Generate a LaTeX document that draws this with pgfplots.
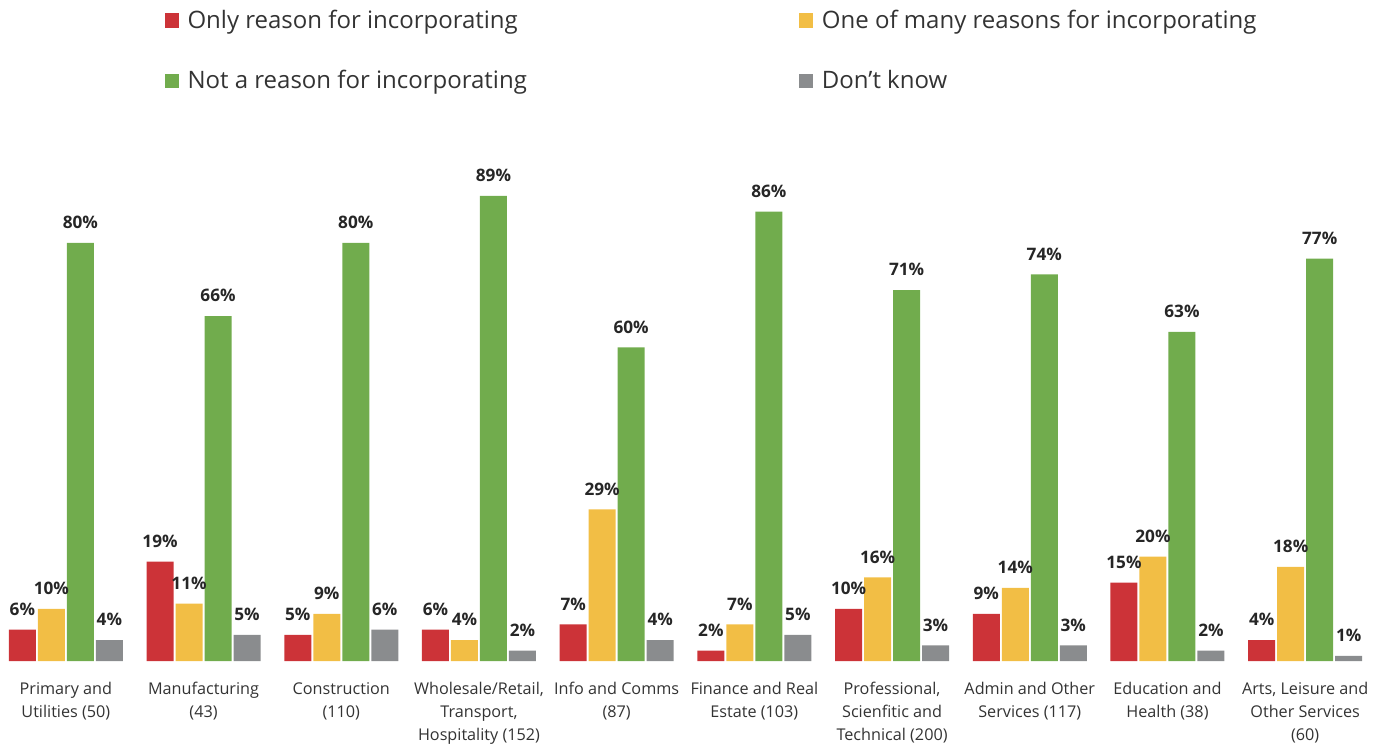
\documentclass[border=0pt]{standalone}
\usepackage{fontspec}
\setmainfont{Open Sans}
\usepackage{pgfplots}
\usepackage{pgfplotstable}
\pgfplotsset{compat=1.18}
\definecolor{cRed}{HTML}{CC3338}
\definecolor{cYel}{HTML}{F2BE45}
\definecolor{cGrn}{HTML}{71AC4D}
\definecolor{cGry}{HTML}{8A8C8E}
\definecolor{labc}{HTML}{262626}
\definecolor{tickc}{HTML}{333333}

\pgfplotstableread{
x only many notr dk
0 6 10 80 4
1 19 11 66 5
2 5 9 80 6
3 6 4 89 2
4 7 29 60 4
5 2 7 86 5
6 10 16 71 3
7 9 14 74 3
8 15 20 63 2
9 4 18 77 1
}\sectordata

\begin{document}
\begin{tikzpicture}
\path[use as bounding box] (1.5pt,-41pt) rectangle (693.5pt,330.5pt);
\begin{axis}[at={(0pt,0pt)}, anchor=south west,
    ybar=1pt, bar width=13.5pt,
    scale only axis, width=688.5pt, height=261.25pt,
    xmin=-0.5, xmax=9.5, ymin=0, ymax=100,
    axis line style={draw=none}, tick style={draw=none},
    ytick=\empty, xtick=data,
    xticklabels={{Primary and\\Utilities (50)},{Manufacturing\\(43)},{Construction\\(110)},
      {Wholesale/Retail,\\Transport,\\Hospitality (152)},{Info and Comms\\(87)},
      {Finance and Real\\Estate (103)},{Professional,\\Scienfitic and\\Technical (200)},
      {Admin and Other\\Services (117)},{Education and\\Health (38)},
      {Arts, Leisure and\\Other Services\\(60)}},
    xticklabel style={font=\fontsize{8.1}{11.5}\selectfont, align=center, text=tickc, yshift=-3pt},
    nodes near coords={\pgfmathprintnumber{\pgfplotspointmeta}\%},
    /pgf/number format/assume math mode=true,
    nodes near coords style={font=\bfseries\fontsize{8.6}{10}\selectfont, text=labc, yshift=3.5pt},
    every axis plot/.append style={draw=none,
      legend image code/.code={\fill[##1,draw=none] (0pt,-3.5pt) rectangle (7pt,3.75pt);}},
    legend columns=2,
    legend cell align=left,
    legend style={draw=none, fill=none, font=\fontsize{12}{14}\selectfont, text=tickc,
      at={(0.117,1.262)}, anchor=north west, row sep=15.5pt,
      /tikz/every odd column/.append style={column sep=2.5pt},
      /tikz/every even column/.append style={column sep=134pt}},
  ]
  \addplot[fill=cRed] table[x=x, y=only] {\sectordata};
  \addlegendentry{Only reason for incorporating}
  \addplot[fill=cYel] table[x=x, y=many] {\sectordata};
  \addlegendentry{One of many reasons for incorporating}
  \addplot[fill=cGrn] table[x=x, y=notr] {\sectordata};
  \addlegendentry{Not a reason for incorporating}
  \addplot[fill=cGry] table[x=x, y=dk] {\sectordata};
  \addlegendentry{Don't know}
\end{axis}
\end{tikzpicture}
\end{document}
